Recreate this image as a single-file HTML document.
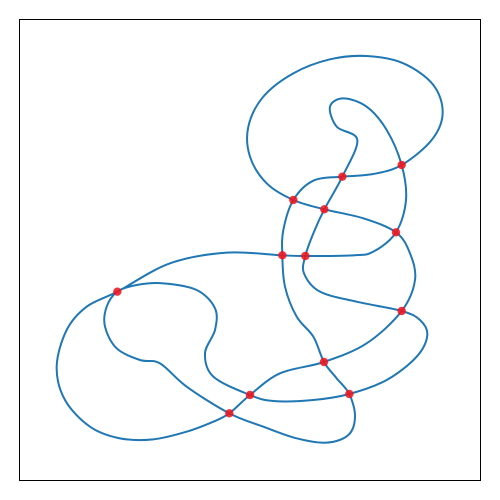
<!DOCTYPE html>
<html><head><meta charset="utf-8"><style>
html,body{margin:0;padding:0;background:#fff;width:500px;height:500px;overflow:hidden}
</style></head><body>
<svg id="chart" width="500" height="500" viewBox="0 0 500 500">
<rect x="19.5" y="19.5" width="461" height="461" fill="#fff" stroke="#000" stroke-width="1"/>
<g id="curve"></g><g id="dots"></g>
</svg>
<script>
const curveX=[292,350,430,530,585,585,555,580,690,760,880,988,1100,1190,1222,1200,1145,1010,900,852,856,880,913,967,1012,950,930,970,1040,1100,1145,1158,1128,1060,1000,856,787,620,450,292,200,140,110,135,210,300,400,500,580,628,690,780,912,1040,1145,1185,1170,1128,1030,913,820,740,690,685,730,820,930,1040,1150,1240,1268,1235,1145,1060,967,880,820,790,787,795,830,880,912,950,988,1005,985,920,830,730,628,500,420,360,290,255,260];
const curveY=[815,795,790,810,865,930,1000,1070,1125,1143,1140,1122,1080,1010,945,900,873,845,815,760,708,640,568,470,360,320,260,235,260,330,435,540,637,695,706,708,706,698,730,815,860,930,1040,1140,1220,1255,1258,1235,1205,1180,1125,1060,1026,970,873,780,700,637,595,568,540,490,410,320,230,160,118,108,130,195,280,360,435,462,470,482,540,630,706,800,890,950,1026,1075,1122,1190,1245,1268,1255,1220,1180,1100,1030,1020,985,920,860];
const crossX=[1145,967,820,913,1128,787,856,292,1145,912,690,988,628];
const crossY=[435,470,540,568,637,706,708,815,873,1026,1125,1122,1180];
const sx=v=>20+v/3, sy=v=>20+v/3;
const n=curveX.length;
const P=i=>[sx(curveX[(i+n)%n]),sy(curveY[(i+n)%n])];
let d='M'+P(0).join(',');
for(let i=0;i<n;i++){
 const p0=P(i-1),p1=P(i),p2=P(i+1),p3=P(i+2);
 const c1=[p1[0]+(p2[0]-p0[0])/6,p1[1]+(p2[1]-p0[1])/6];
 const c2=[p2[0]-(p3[0]-p1[0])/6,p2[1]-(p3[1]-p1[1])/6];
 d+=`C${c1.join(',')} ${c2.join(',')} ${p2.join(',')}`;
}
const NS='http://www.w3.org/2000/svg';
const path=document.createElementNS(NS,'path');


path.setAttribute('d',d+'Z');
path.setAttribute('fill','none');path.setAttribute('stroke','#1f77b4');path.setAttribute('stroke-width','2');
document.getElementById('curve').appendChild(path);
const g=document.getElementById('dots');
for(let i=0;i<crossX.length;i++){
 const c=document.createElementNS(NS,'circle');
 
 
 c.setAttribute('cx',sx(crossX[i]));c.setAttribute('cy',sy(crossY[i]));c.setAttribute('r','4.2');
 c.setAttribute('fill','#f0141e');c.setAttribute('fill-opacity','0.88');
 g.appendChild(c);
}
</script>
</body></html>
